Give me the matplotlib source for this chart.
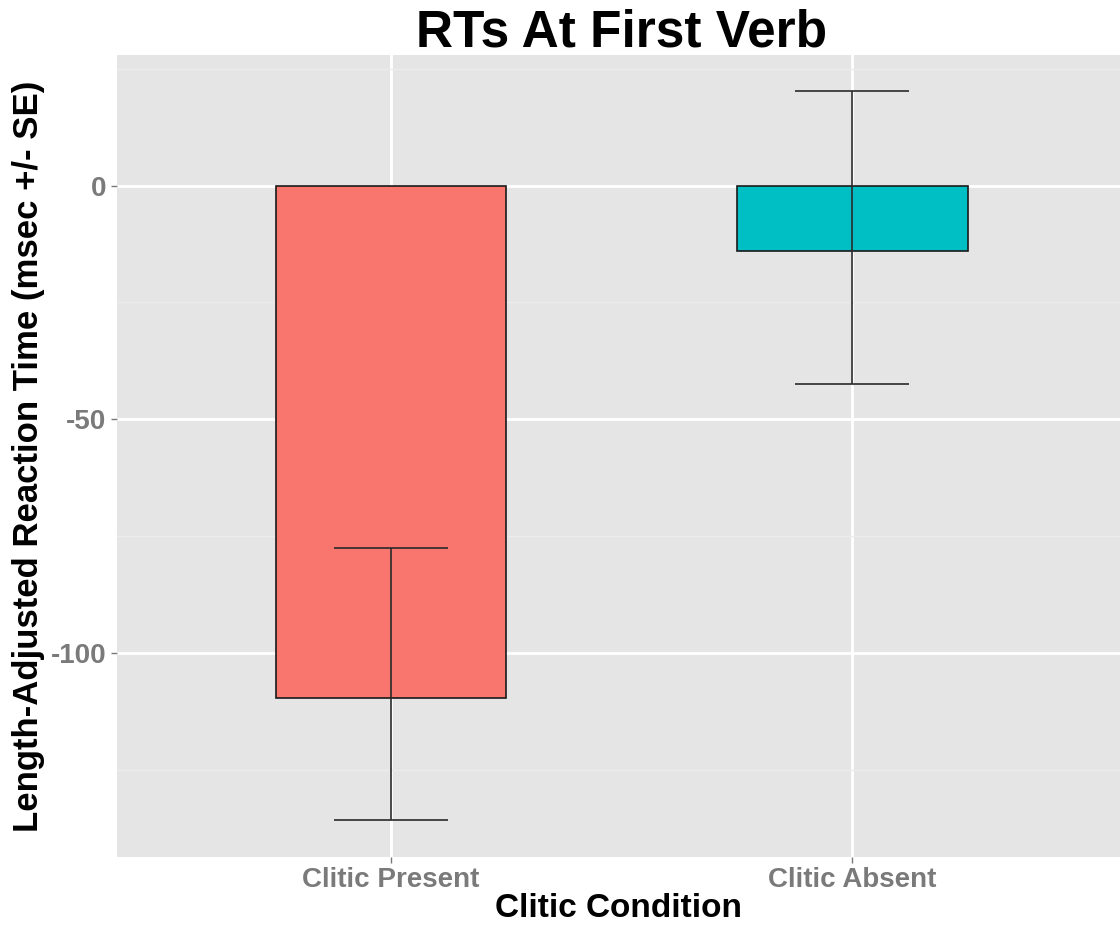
import numpy as np
import matplotlib.pyplot as plt
from matplotlib.ticker import MultipleLocator

plt.rcParams['font.family'] = ['Liberation Sans', 'DejaVu Sans']
plt.rcParams['axes.unicode_minus'] = False

conditions = ['Clitic Present', 'Clitic Absent']
mean_rt = [-109.6, -13.9]
err_low = [-135.8, -42.4]
err_high = [-77.5, 20.3]
colors = ['#F8766D', '#00BFC4']

fig = plt.figure(figsize=(11.2, 9.3), dpi=100)
ax = fig.add_axes([0.1045, 0.0785, 0.8955, 0.8625])
ax.set_facecolor('#E5E5E5')

x = np.arange(1, len(conditions) + 1)
ax.bar(x, mean_rt, width=0.5, color=colors, edgecolor='#1a1a1a', linewidth=1.2, zorder=3)

mean_arr = np.array(mean_rt)
yerr = [mean_arr - np.array(err_low), np.array(err_high) - mean_arr]
ax.errorbar(x, mean_rt, yerr=yerr, fmt='none', ecolor='#2a2a2a', elinewidth=1.2,
            capsize=41, capthick=1.2, zorder=4)

ax.set_xlim(0.406, 2.58)
ax.set_ylim(-143.7, 28)
ax.set_xticks(x)
ax.set_xticklabels(conditions)
ax.yaxis.set_major_locator(MultipleLocator(50))
ax.yaxis.set_minor_locator(MultipleLocator(25))

ax.grid(which='major', color='white', linewidth=2.0, zorder=0)
ax.grid(which='minor', axis='y', color='#ececec', linewidth=1.0, zorder=0)
ax.set_axisbelow(True)
for s in ax.spines.values():
    s.set_visible(False)

ax.tick_params(axis='both', which='major', colors='#7a7a7a', length=4, width=1,
               labelsize=20, labelcolor='#7a7a7a')
ax.tick_params(axis='y', which='minor', length=0)
for lab in ax.get_xticklabels() + ax.get_yticklabels():
    lab.set_fontweight('bold')

ax.set_xlabel('Clitic Condition', fontsize=24, fontweight='bold', labelpad=0)
ax.set_ylabel('Length-Adjusted Reaction Time (msec +/- SE)', fontsize=25,
              fontweight='bold', labelpad=4)
fig.text(0.555, 0.965, 'RTs At First Verb', fontsize=37, fontweight='bold',
         ha='center', va='center')

fig.savefig('out.png', dpi=100)
